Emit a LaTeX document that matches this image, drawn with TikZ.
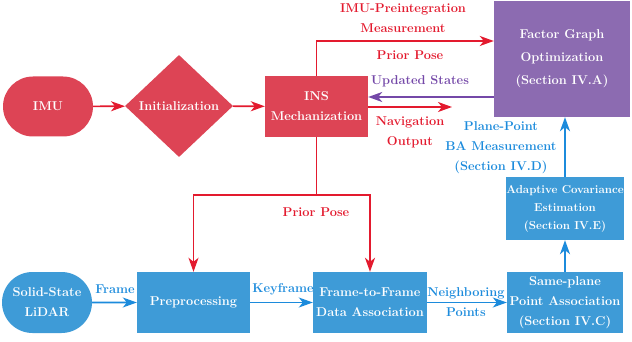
\documentclass[tikz,border=0pt]{standalone}
\usetikzlibrary{shapes.geometric,shapes.misc,arrows.meta}
\definecolor{redfill}{HTML}{DD4455}
\definecolor{redline}{HTML}{E31A2E}
\definecolor{purfill}{HTML}{8C6BB1}
\definecolor{purline}{HTML}{7448A8}
\definecolor{bluefill}{HTML}{3E9BD7}
\definecolor{blueline}{HTML}{1C8BDC}
\tikzset{
  txt/.style={font=\fontsize{12.8}{20}\selectfont\bfseries, align=center, inner sep=0pt},
  box/.style={txt, text=white, draw=none, minimum width=#1},
  term/.style={txt, text=white, rounded rectangle, minimum width=90pt, minimum height=60pt},
  tip/.style={-{Stealth[length=14pt,width=10pt,inset=4pt]}},
  rarr/.style={draw=redline, line width=1.6pt, tip},
  parr/.style={draw=purline, line width=1.6pt, tip},
  barr/.style={draw=blueline, line width=1.6pt, tip},
  rlab/.style={txt, text=redline},
  plab/.style={txt, text=purline},
  blab/.style={txt, text=blueline},
}
\begin{document}
\begin{tikzpicture}[x=1pt,y=-1pt]
\useasboundingbox (0,0) rectangle (632,342);
% IMU branch
\node[term, fill=redfill] (imu) at (48,106.5) {IMU};
\node[txt, text=white, diamond, fill=redfill, minimum width=108pt, minimum height=102pt, aspect=1.06] (init) at (179,106) {Initialization};
\node[box=103pt, fill=redfill, minimum height=61pt] (ins) at (316.5,106.5) {INS\\Mechanization};
\node[box=136pt, fill=purfill, minimum height=116pt] (fgo) at (562,59) {Factor Graph\\[3pt]Optimization\\[3pt](Section IV.A)};
% LiDAR branch
\node[term, fill=bluefill, minimum height=61pt] (lidar) at (47,302.5) {Solid-State\\LiDAR};
\node[box=113pt, fill=bluefill, minimum height=61pt] (pre) at (193.5,302.5) {Preprocessing};
\node[box=114pt, fill=bluefill, minimum height=61pt] (f2f) at (370,302.5) {Frame-to-Frame\\Data Association};
\node[box=116pt, fill=bluefill, minimum height=61pt] (spa) at (565,302.5) {Same-plane\\Point Association\\(Section IV.C)};
\node[box=116pt, fill=bluefill, minimum height=63pt, font=\fontsize{11.5}{18}\selectfont\bfseries] (ace) at (565,208.5) {Adaptive Covariance\\Estimation\\(Section IV.E)};
% coordinates
\coordinate (navend) at (452,107);
\coordinate (split) at (316.5,195);
% arrows red
\draw[rarr] (imu) -- (init);
\draw[rarr] (init) -- (ins);
\draw[rarr] (ins.north) |- (fgo.west |- 0,41);
\draw[rarr] (ins.east |- 0,107) -- (navend);
\draw[parr] (fgo.west |- 0,97) -- (ins.east |- 0,97);
\draw[rarr] (ins.south) -- (split) -| (pre.north);
\draw[rarr] (split) -| (f2f.north);
% arrows blue
\draw[barr] (lidar) -- (pre);
\draw[barr] (pre) -- (f2f);
\draw[barr] (f2f) -- (spa);
\draw[barr] (spa) -- (ace);
\draw[barr] (ace) -- (fgo.south -| ace.north);
% labels
\node[rlab] (l1) at (403,18) {IMU-Preintegration\\Measurement};
\node[rlab] (l2) at (410,55) {Prior Pose};
\node[plab] (l3) at (420,81) {Updated States};
\node[rlab] (l4) at (410,132.5) {Navigation\\Output};
\node[blab] (l5) at (501,148) {Plane-Point\\BA Measurement\\(Section IV.D)};
\node[rlab] (l6) at (316,212) {Prior Pose};
\node[blab] (l7) at (115,289) {Frame};
\node[blab] (l8) at (283,289) {Keyframe};
\node[blab] (l9) at (466,302) {Neighboring\\Points};
\end{tikzpicture}
\end{document}
